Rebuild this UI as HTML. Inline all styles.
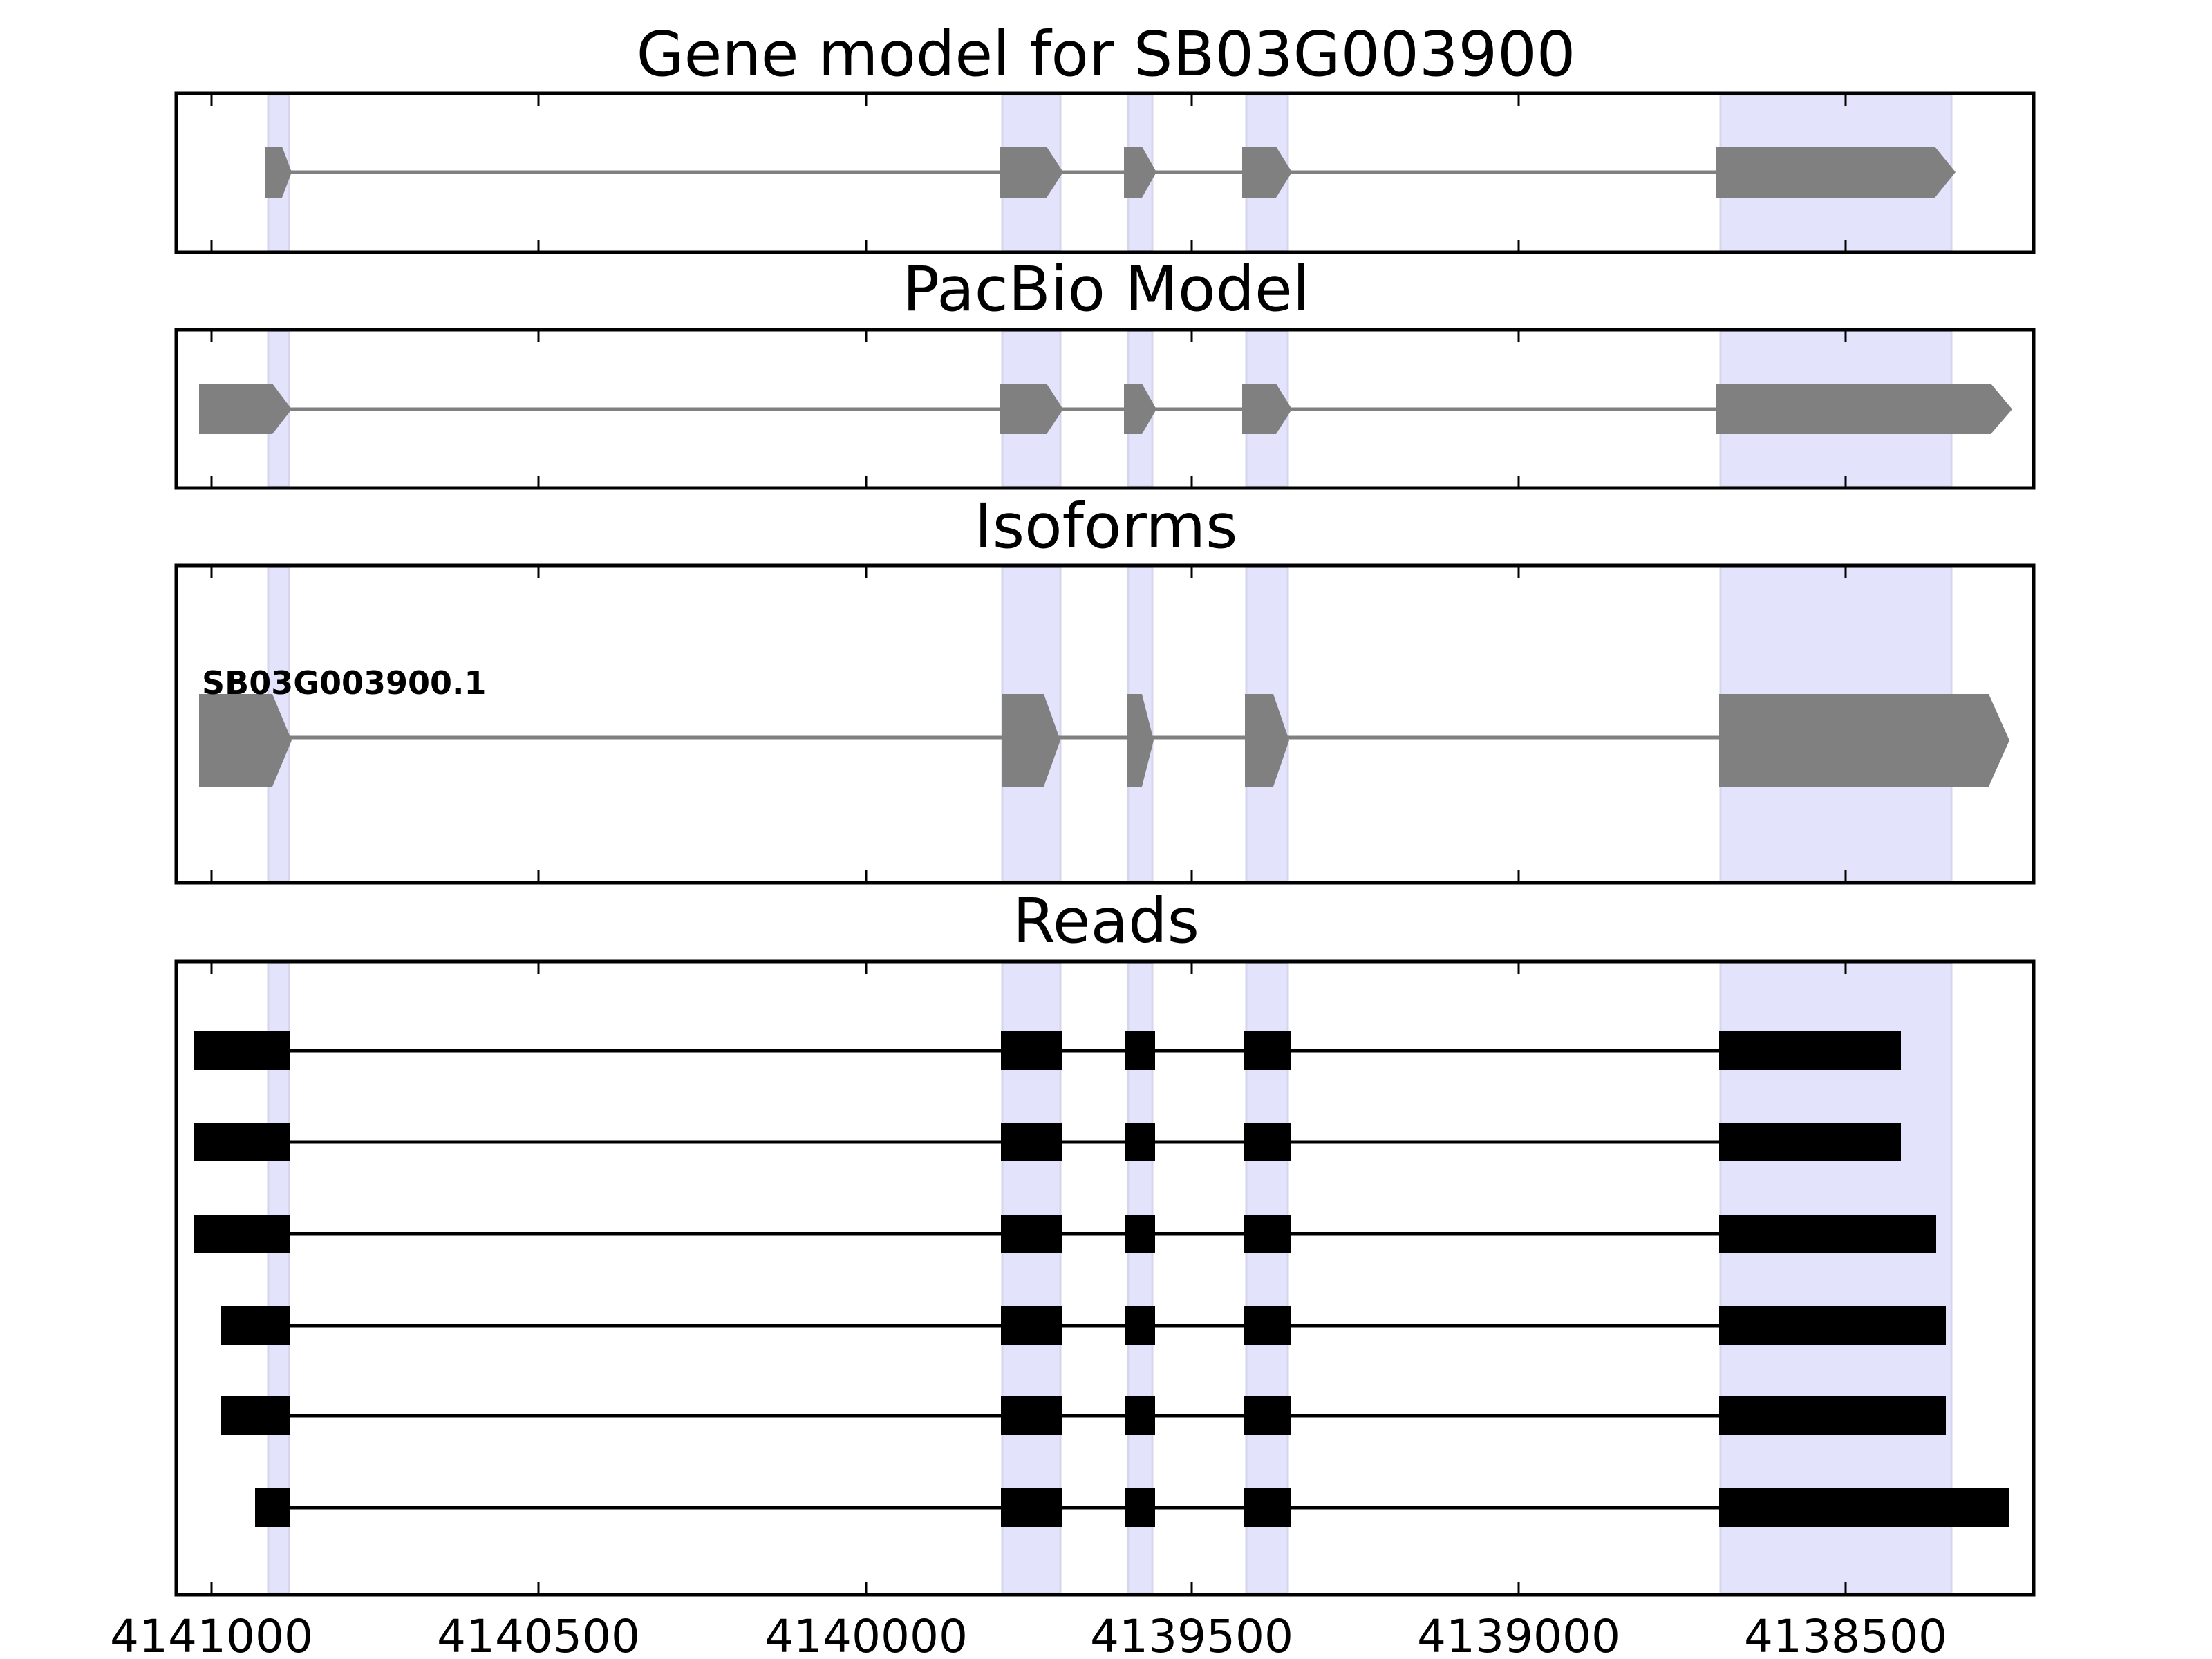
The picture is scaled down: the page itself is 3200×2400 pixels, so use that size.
<!DOCTYPE html>
<html><head><meta charset="utf-8"><style>html,body{margin:0;padding:0;background:#fff}svg{display:block}</style></head>
<body>
<svg width="3200" height="2400" viewBox="0 0 3200 2400" xmlns="http://www.w3.org/2000/svg" font-family="'DejaVu Sans','Liberation Sans',sans-serif">
<!-- highlight bands -->
<g fill="#e3e3fb" stroke="#d5d5ec" stroke-width="3">
<rect x="388" y="137" width="30" height="226"/><rect x="1450" y="137" width="84" height="226"/><rect x="1632" y="137" width="35" height="226"/><rect x="1803" y="137" width="60" height="226"/><rect x="2489" y="137" width="334" height="226"/>
<rect x="388" y="479" width="30" height="225"/><rect x="1450" y="479" width="84" height="225"/><rect x="1632" y="479" width="35" height="225"/><rect x="1803" y="479" width="60" height="225"/><rect x="2489" y="479" width="334" height="225"/>
<rect x="388" y="820" width="30" height="455"/><rect x="1450" y="820" width="84" height="455"/><rect x="1632" y="820" width="35" height="455"/><rect x="1803" y="820" width="60" height="455"/><rect x="2489" y="820" width="334" height="455"/>
<rect x="388" y="1393" width="30" height="912"/><rect x="1450" y="1393" width="84" height="912"/><rect x="1632" y="1393" width="35" height="912"/><rect x="1803" y="1393" width="60" height="912"/><rect x="2489" y="1393" width="334" height="912"/>
</g>
<!-- Gene model -->
<line x1="408" y1="249" x2="2483" y2="249" stroke="#808080" stroke-width="5"/>
<g fill="#808080">
<polygon points="384,212 408,212 422,249 408,286 384,286"/>
<polygon points="1446,212 1514,212 1538,249 1514,286 1446,286"/>
<polygon points="1626,212 1652,212 1673,249 1652,286 1626,286"/>
<polygon points="1797,212 1846,212 1869,249 1846,286 1797,286"/>
<polygon points="2483,212 2799,212 2829,249 2799,286 2483,286"/>
</g>
<!-- PacBio -->
<line x1="408" y1="592" x2="2483" y2="592" stroke="#808080" stroke-width="5"/>
<g fill="#808080">
<polygon points="288,555 394,555 422,592 394,628 288,628"/>
<polygon points="1446,555 1514,555 1538,592 1514,628 1446,628"/>
<polygon points="1626,555 1652,555 1673,592 1652,628 1626,628"/>
<polygon points="1797,555 1846,555 1869,592 1846,628 1797,628"/>
<polygon points="2483,555 2880,555 2911,592 2880,628 2483,628"/>
</g>
<!-- Isoforms -->
<line x1="408" y1="1067" x2="2487" y2="1067" stroke="#808080" stroke-width="5"/>
<g fill="#808080">
<polygon points="288,1004 394,1004 422,1071 394,1138 288,1138"/>
<polygon points="1449,1004 1510,1004 1534,1071 1510,1138 1449,1138"/>
<polygon points="1630,1004 1652,1004 1669,1071 1652,1138 1630,1138"/>
<polygon points="1801,1004 1842,1004 1865,1071 1842,1138 1801,1138"/>
<polygon points="2487,1004 2877,1004 2907,1071 2877,1138 2487,1138"/>
</g>
<text x="292" y="1004" font-size="46" font-weight="bold" fill="#000">SB03G003900.1</text>
<!-- Reads -->
<g stroke="#000" stroke-width="5">
<line x1="420" y1="1520" x2="2487" y2="1520"/><line x1="420" y1="1652" x2="2487" y2="1652"/><line x1="420" y1="1785" x2="2487" y2="1785"/><line x1="420" y1="1918" x2="2487" y2="1918"/><line x1="420" y1="2048" x2="2487" y2="2048"/><line x1="420" y1="2181" x2="2487" y2="2181"/>
</g>
<g fill="#000">
<rect x="280" y="1492" width="140" height="56"/><rect x="1448" y="1492" width="88" height="56"/><rect x="1628" y="1492" width="43" height="56"/><rect x="1799" y="1492" width="68" height="56"/><rect x="2487" y="1492" width="263" height="56"/>
<rect x="280" y="1624" width="140" height="56"/><rect x="1448" y="1624" width="88" height="56"/><rect x="1628" y="1624" width="43" height="56"/><rect x="1799" y="1624" width="68" height="56"/><rect x="2487" y="1624" width="263" height="56"/>
<rect x="280" y="1757" width="140" height="56"/><rect x="1448" y="1757" width="88" height="56"/><rect x="1628" y="1757" width="43" height="56"/><rect x="1799" y="1757" width="68" height="56"/><rect x="2487" y="1757" width="314" height="56"/>
<rect x="320" y="1890" width="100" height="56"/><rect x="1448" y="1890" width="88" height="56"/><rect x="1628" y="1890" width="43" height="56"/><rect x="1799" y="1890" width="68" height="56"/><rect x="2487" y="1890" width="328" height="56"/>
<rect x="320" y="2020" width="100" height="56"/><rect x="1448" y="2020" width="88" height="56"/><rect x="1628" y="2020" width="43" height="56"/><rect x="1799" y="2020" width="68" height="56"/><rect x="2487" y="2020" width="328" height="56"/>
<rect x="369" y="2153" width="51" height="56"/><rect x="1448" y="2153" width="88" height="56"/><rect x="1628" y="2153" width="43" height="56"/><rect x="1799" y="2153" width="68" height="56"/><rect x="2487" y="2153" width="420" height="56"/>
</g>
<!-- Axes frames -->
<g fill="none" stroke="#000" stroke-width="5">
<rect x="255" y="135" width="2687" height="230"/>
<rect x="255" y="477" width="2687" height="229"/>
<rect x="255" y="818" width="2687" height="459"/>
<rect x="255" y="1391" width="2687" height="916"/>
</g>
<!-- ticks -->
<g stroke="#000" stroke-width="3">
<path d="M306 137v16M779 137v16M1253 137v16M1724 137v16M2197 137v16M2670 137v16 M306 363v-16M779 363v-16M1253 363v-16M1724 363v-16M2197 363v-16M2670 363v-16"/>
<path d="M306 479v16M779 479v16M1253 479v16M1724 479v16M2197 479v16M2670 479v16 M306 704v-16M779 704v-16M1253 704v-16M1724 704v-16M2197 704v-16M2670 704v-16"/>
<path d="M306 820v16M779 820v16M1253 820v16M1724 820v16M2197 820v16M2670 820v16 M306 1275v-16M779 1275v-16M1253 1275v-16M1724 1275v-16M2197 1275v-16M2670 1275v-16"/>
<path d="M306 1393v16M779 1393v16M1253 1393v16M1724 1393v16M2197 1393v16M2670 1393v16 M306 2305v-16M779 2305v-16M1253 2305v-16M1724 2305v-16M2197 2305v-16M2670 2305v-16"/>
</g>
<!-- titles -->
<g font-size="89" text-anchor="middle" fill="#000">
<text x="1600" y="109">Gene model for SB03G003900</text>
<text x="1600" y="449">PacBio Model</text>
<text x="1600" y="792">Isoforms</text>
<text x="1600" y="1363">Reads</text>
</g>
<g font-size="66" text-anchor="middle" fill="#000">
<text x="306" y="2390">4141000</text><text x="779" y="2390">4140500</text><text x="1253" y="2390">4140000</text><text x="1724" y="2390">4139500</text><text x="2197" y="2390">4139000</text><text x="2670" y="2390">4138500</text>
</g>
</svg>
</body></html>
